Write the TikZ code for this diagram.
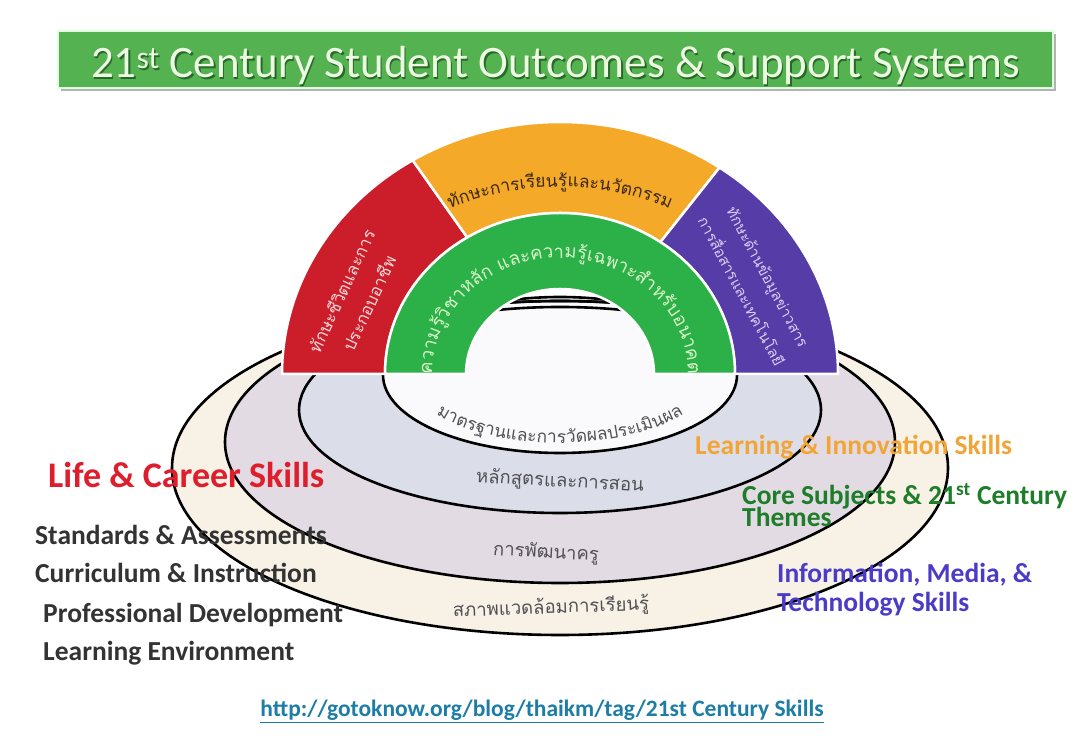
\documentclass[tikz,border=0pt]{standalone}
\usepackage{fontspec}
\setmainfont{Carlito}
\newfontfamily\thaifont[Script=Thai]{Loma}
\usetikzlibrary{calc,decorations.text}

\definecolor{titlegreen}{RGB}{84,178,80}
\definecolor{titledark}{RGB}{38,105,40}
\definecolor{titletext}{RGB}{236,250,225}
\definecolor{archred}{RGB}{204,30,42}
\definecolor{archorange}{RGB}{244,170,40}
\definecolor{archgreen}{RGB}{44,176,72}
\definecolor{archpurple}{RGB}{86,60,166}
\definecolor{ringcream}{RGB}{248,241,229}
\definecolor{ringpink}{RGB}{227,219,228}
\definecolor{ringblue}{RGB}{219,221,232}
\definecolor{ringwhite}{RGB}{250,250,252}
\definecolor{lifered}{RGB}{222,30,45}
\definecolor{learnorange}{RGB}{242,165,55}
\definecolor{coregreen}{RGB}{30,125,40}
\definecolor{infoblue}{RGB}{75,60,200}
\definecolor{urlteal}{RGB}{30,125,165}
\definecolor{thaigray}{RGB}{80,80,85}
\definecolor{redtext}{RGB}{250,215,215}
\definecolor{purpletext}{RGB}{215,205,245}
\definecolor{greentext}{RGB}{215,245,200}
\definecolor{orangetext}{RGB}{60,40,20}

\newcommand{\pxfont}[2]{\fontsize{#1}{#2}\selectfont}

\begin{document}
\begin{tikzpicture}[x=1pt,y=1pt,
    band/.style={draw=white, line width=2.5pt, line join=round},
    ring/.style={draw=black, line width=2.6pt},
    thai/.style={inner sep=0pt, font=\thaifont\pxfont{18.5}{22}, text=thaigray}]
  \tikzstyle{skill} = [anchor=base west, inner sep=0pt, font=\bfseries\pxfont{27.5}{30}]
  \useasboundingbox (0,0) rectangle (1086,751);
  \fill[white] (0,0) rectangle (1086,751);
  \coordinate (O) at (560,377);

  % title bar
  \fill[black!30] (61,660) rectangle (1056,717);
  \filldraw[fill=titlegreen, draw=green!12!white, line width=1.2pt] (58,663) rectangle (1053,720);
  \node (titleshade) at (557,671.5) [anchor=base, text=titledark, font=\pxfont{45}{48}] {21\textsuperscript{st} Century Student Outcomes \& Support Systems};
  \node (title) at (555.5,673) [anchor=base, text=titletext, font=\pxfont{45}{48}] {21\textsuperscript{st} Century Student Outcomes \& Support Systems};

  % support system rings
  \foreach \cy/\rx/\ry/\col in {283/388/167/ringcream, 309/335/141/ringpink, 341/261/103/ringblue, 376/177/78/ringwhite}
    \fill[\col] (560,\cy) ellipse[x radius=\rx, y radius=\ry];
  \foreach \cy/\rx/\ry in {283/388/167, 309/335/141, 341/261/103, 376/177/78}
    \draw[ring] (560,\cy) ellipse[x radius=\rx, y radius=\ry];

  % outcome arch
  \filldraw[fill=archred, band] (O) ++(180:278 and 252) arc[start angle=180, end angle=122, x radius=278, y radius=252]
    -- ($(O)+(122:175 and 161)$) arc[start angle=122, end angle=180, x radius=175, y radius=161] -- cycle;
  \filldraw[fill=archorange, band] (O) ++(122:278 and 252) arc[start angle=122, end angle=55, x radius=278, y radius=252]
    -- ($(O)+(55:175 and 161)$) arc[start angle=55, end angle=122, x radius=175, y radius=161] -- cycle;
  \filldraw[fill=archpurple, band] (O) ++(55:278 and 252) arc[start angle=55, end angle=0, x radius=278, y radius=252]
    -- ($(O)+(0:175 and 161)$) arc[start angle=0, end angle=55, x radius=175, y radius=161] -- cycle;
  \filldraw[fill=archgreen, band] (O) ++(180:175 and 161) arc[start angle=180, end angle=0, x radius=175, y radius=161]
    -- ($(O)+(0:94 and 85)$) arc[start angle=0, end angle=180, x radius=94, y radius=85] -- cycle;

  % curved labels
  \path[decorate, decoration={text along path, text align=center, text color=orangetext,
      text={|\thaifont\pxfont{17.5}{20}|{ทั}กษะการเ{รี}ยน{รู้}และน{วั}ตกรรม}}]
    (O) ++(170:235 and 187) arc[start angle=170, end angle=10, x radius=235, y radius=187];
  \path[decorate, decoration={text along path, text align=center, text color=greentext,
      text={|\thaifont\pxfont{18.5}{20}|ความ{รู้}{วิ}ชาห{ลั}ก และความ{รู้}เฉพาะ{สำ}ห{รั}บอนาคต}}]
    (O) ++(184:128 and 116) arc[start angle=184, end angle=-4, x radius=128, y radius=116];
  \path[decorate, decoration={text along path, text align=center, text color=thaigray,
      text={|\thaifont\pxfont{17.5}{20}|มาตรฐานและการ{วั}ดผลประเ{มิ}นผล}}]
    (O) ++(195:152 and 69) arc[start angle=195, end angle=345, x radius=152, y radius=69];

  \node (lifearc) at (355,454) [rotate=65, align=center, inner sep=0pt, text=redtext, font=\thaifont\pxfont{17}{30}] {ทักษะชีวิตและการ\\ประกอบอาชีพ};
  \node (mediaarc) at (755,467) [rotate=-62, align=center, inner sep=0pt, text=purpletext, font=\thaifont\pxfont{15}{30}] {ทักษะด้านข้อมูลข่าวสาร\\การสื่อสารและเทคโนโลยี};

  \node (curric) at (560,269) [thai, rotate=-3] {หลักสูตรและการสอน};
  \node (teacher) at (546,198) [thai, rotate=-3] {การพัฒนาครู};
  \node (environ) at (551,143) [thai, rotate=2] {สภาพแวดล้อมการเรียนรู้};

  % side lists
  \node (lifeskills) at (48,263) [skill, text=lifered, font=\bfseries\pxfont{36}{38}] {Life \& Career Skills};
  \node (standards) at (35,206) [skill, text=black!80] {Standards \& Assessments};
  \node (curriculum) at (35,168) [skill, text=black!80] {Curriculum \& Instruction};
  \node (profdev) at (43,128) [skill, text=black!80] {Professional Development};
  \node (learnenv) at (43,90) [skill, text=black!80] {Learning Environment};

  \node (learnskills) at (695,296) [skill, text=learnorange] {Learning \& Innovation Skills};
  \node (coresubj) at (742,246) [skill, text=coregreen] {Core Subjects \& 21\textsuperscript{st} Century};
  \node (themes) at (742,224) [skill, text=coregreen] {Themes};
  \node (infoskills) at (777,168) [skill, text=infoblue] {Information, Media, \&};
  \node (techskills) at (777,139) [skill, text=infoblue] {Technology Skills};

  \node (url) at (542,34) [anchor=base, text=urlteal, font=\bfseries\pxfont{23.5}{26}] {\underline{http://gotoknow.org/blog/thaikm/tag/21st Century Skills}};
\end{tikzpicture}
\end{document}
